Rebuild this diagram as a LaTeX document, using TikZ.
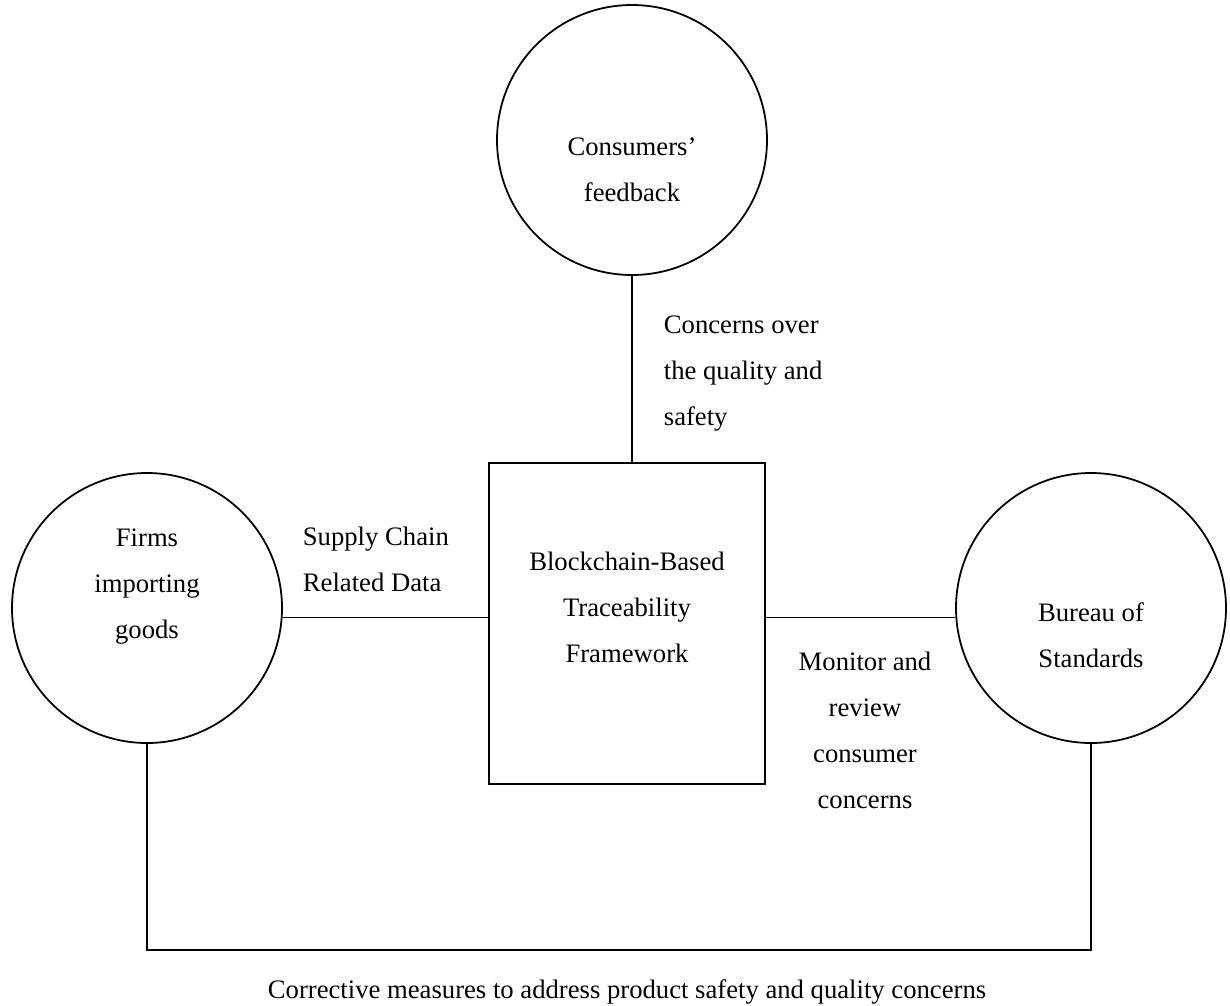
\documentclass[tikz,border=0pt]{standalone}
\usepackage{fontspec}
\setmainfont{Liberation Serif}
\usetikzlibrary{positioning}

\begin{document}
\begin{tikzpicture}[x=0.45pt, y=-0.45pt, line width=0.8pt,
		party/.style = {circle, draw, minimum size=121.5pt, inner sep=0pt},
		block/.style = {rectangle, draw, minimum width=124.2pt,
					minimum height=144.5pt, inner sep=0pt},
		txt/.style = {align=center, inner sep=0pt,
					font=\fontsize{12}{20.7}\selectfont},
		ltxt/.style = {align=left, inner sep=0pt,
					font=\fontsize{12}{20.7}\selectfont}
	]

	\useasboundingbox (0,0) rectangle (1230,1005);

	% Nodes
	\node [party] (CF) at (632,140) {};
	\node [txt] (CFt) at (632,170) {Consumers'\\feedback};

	\node [block] (TF) at (627,623.5) {};
	\node [txt] (TFt) at (627,607) {Blockchain-Based\\Traceability\\Framework};

	\node [party] (FI) at (147,608) {};
	\node [txt] (FIt) at (147,587) {Firms\\importing\\goods};

	\node [party] (BS) at (1091,608) {};
	\node [txt] (BSt) at (1091,635) {Bureau of\\Standards};

	% Lines
	\draw (CF.south) -- (CF.south |- TF.north);
	\draw (FI.-4) -- (FI.-4 -| TF.west);
	\draw (TF.east |- BS.184) -- (BS.184);

	\coordinate (loop) at (620,950);
	\draw (FI.south) |- (loop) -| (BS.south);

	% Labels
	\node [ltxt, anchor=west] (L1) at (302,559) {Supply Chain\\Related Data};
	\node [ltxt, anchor=west] (L2) at (663,374) {Concerns over\\the quality and\\safety};
	\node [txt] (L3) at (865,730) {Monitor and\\review\\consumer\\concerns};
	\node [txt, anchor=base west] (L4) at (267,998)
	{Corrective measures to address product safety and quality concerns};
\end{tikzpicture}
\end{document}
